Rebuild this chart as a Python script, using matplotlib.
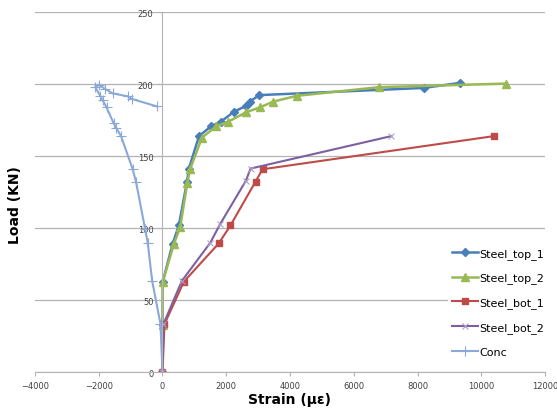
import matplotlib
matplotlib.use("Agg")
import matplotlib.pyplot as plt

# Load-strain readings (strain in micro-strain, load in kN)
top1_strain = [0, 5, 10, 315, 513, 766, 829, 1144, 1533, 1827, 2247, 2615, 2740, 3034, 8200, 9333]
top1_load = [0, 33, 63, 89, 102, 132, 141.5, 164, 171, 174, 181, 185, 188, 192.5, 197.5, 201]

top2_strain = [0, 5, 10, 356, 557, 777, 872, 1239, 1690, 2058, 2615, 3056, 3475, 4211, 6782, 10773]
top2_load = [0, 33, 63, 89, 101, 131.5, 141.5, 163, 171, 174, 180.5, 184, 188, 192, 198, 200.5]

bot1_strain = [0, 63, 672, 1764, 2132, 2920, 3140, 10385]
bot1_load = [0, 33.5, 63, 89.5, 102, 132.5, 141, 164]

bot2_strain = [0, 30, 608, 1500, 1810, 2615, 2762, 7172]
bot2_load = [0, 33.5, 63.5, 90, 103, 133, 141.5, 164]

conc_strain = [0, -63, -324, -463, -545, -828, -935, -1300, -1458, -1533, -1754, -1880,
               -1953, -2110, -2006, -1796, -1565, -1093, -955, -180]
conc_load = [0, 33.5, 63.5, 90, 99.5, 132, 141, 164, 170, 173, 184, 189,
             192, 198, 199.7, 196.7, 193.7, 191.7, 189.8, 184.7]

fig = plt.figure(figsize=(5.57, 4.10), dpi=100)
ax = fig.add_axes([0.0628, 0.0895, 0.9157, 0.878])

ax.plot(top1_strain, top1_load, color='#4A7EBB', lw=1.8, marker='D', ms=4, label='Steel_top_1')
ax.plot(top2_strain, top2_load, color='#98B954', lw=1.8, marker='^', ms=5.5, label='Steel_top_2')
ax.plot(bot1_strain, bot1_load, color='#BE4B48', lw=1.5, marker='s', ms=5, label='Steel_bot_1')
ax.plot(bot2_strain, bot2_load, color='#7D60A0', lw=1.5, marker='x', ms=5, mew=0.8,
        mec='#B0A0CC', label='Steel_bot_2')
ax.plot(conc_strain, conc_load, color='#8AA8D8', lw=1.5, marker='+', ms=7, mew=0.8, label='Conc')

ax.set_xlim(-4000, 12000)
ax.set_ylim(0, 250)
ax.set_xticks(range(-4000, 12001, 2000))
ax.set_yticks(range(0, 251, 50))

# Excel-like axes: vertical axis at x=0, gridlines only horizontal
for s in ['top', 'right']:
    ax.spines[s].set_visible(False)
ax.spines['left'].set_position(('data', 0))
ax.spines['left'].set_color('#B3B3B3')
ax.spines['bottom'].set_color('#B3B3B3')
ax.yaxis.grid(True, color='#B3B3B3', lw=0.9)
ax.set_axisbelow(True)
ax.tick_params(axis='both', labelsize=6, labelcolor='#404040', color='#B3B3B3', length=3)

fig.text(0.027, 0.5, 'Load (KN)', rotation=90, fontsize=10, fontweight='bold',
         ha='center', va='center')
fig.text(0.52, 0.025, 'Strain (\u03bc\u03b5)', fontsize=10, fontweight='bold',
         ha='center', va='center')

leg = ax.legend(loc='upper left', bbox_to_anchor=(0.795, 0.415), bbox_transform=fig.transFigure,
                fontsize=8, frameon=True, handlelength=2.4, handletextpad=0.1,
                labelspacing=1.25, borderpad=0.3)
leg.get_frame().set_edgecolor('none')
leg.get_frame().set_facecolor('white')
leg.get_frame().set_alpha(1)

plt.savefig('out.png', dpi=100)
